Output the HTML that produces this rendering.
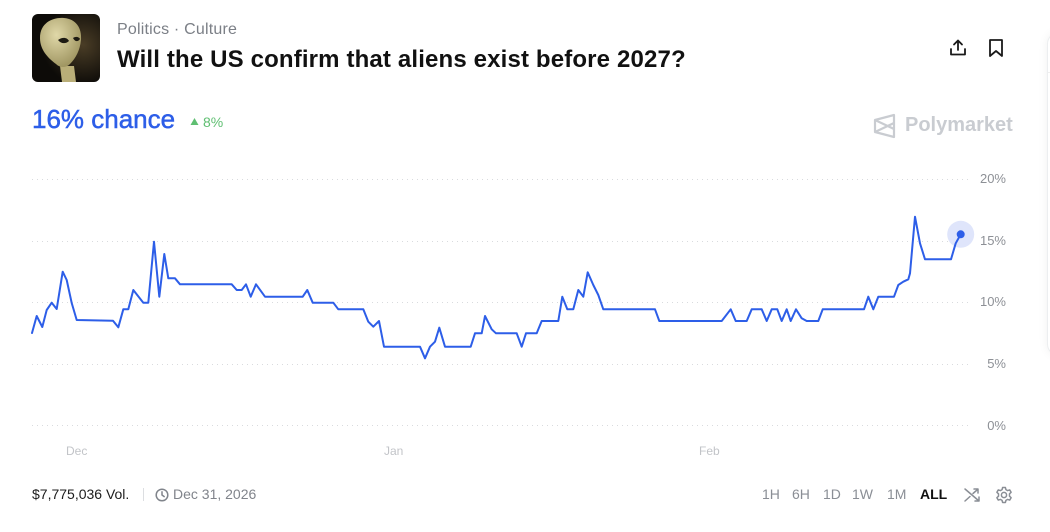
<!DOCTYPE html>
<html><head><meta charset="utf-8">
<style>
html,body{margin:0;padding:0;background:#fff;}
body{width:1050px;height:532px;overflow:hidden;position:relative;font-family:"Liberation Sans",sans-serif;}
.abs{position:absolute;white-space:nowrap;}
.cat{left:117px;top:21px;font-size:16px;color:#7b7f86;letter-spacing:0.2px;}
.title{left:117px;top:46px;font-size:24px;font-weight:bold;color:#111;letter-spacing:0.15px;}
.chance{left:32px;top:104px;font-size:26px;color:#2d5ee8;-webkit-text-stroke:0.5px #2d5ee8;}
.delta{left:190px;top:114px;font-size:14px;color:#5fbf72;}
.pm{left:905px;top:114px;font-size:20px;font-weight:bold;color:#c9ccd1;}
.ylab{font-size:13px;color:#8d9096;left:975px;width:31px;text-align:right;}
.xlab{font-size:12px;color:#c2c4c8;}
.vol{left:32px;top:486px;font-size:14px;color:#1c1c1c;}
.date{left:173px;top:486px;font-size:14px;color:#80848b;}
.rng{top:486px;font-size:14px;color:#8a8e95;}
.card{position:absolute;left:1047px;top:32px;width:30px;height:322px;border:1px solid #eceef0;border-radius:12px;box-shadow:0 0 10px rgba(0,0,0,0.06);background:#fff;}
</style></head>
<body>
<div class="card"></div>
<div style="position:absolute;left:1048px;top:72px;width:3px;height:1px;background:#eee"></div>

<!-- alien image -->
<svg class="abs" style="left:32px;top:14px" width="68" height="68" viewBox="0 0 68 68">
<defs>
<clipPath id="rc"><rect x="0" y="0" width="68" height="68" rx="6"/></clipPath>
<radialGradient id="bg" cx="0.75" cy="0.45" r="0.6"><stop offset="0" stop-color="#4a3d26"/><stop offset="1" stop-color="#0d0b08"/></radialGradient>
<radialGradient id="hd" cx="0.4" cy="0.35" r="0.7"><stop offset="0" stop-color="#e0d8a8"/><stop offset="1" stop-color="#9c925e"/></radialGradient>
</defs>
<g clip-path="url(#rc)">
<rect width="68" height="68" fill="url(#bg)"/>
<path d="M28 52 L30 68 L44 68 L42 52 Z" fill="#b9ae78"/>
<path d="M8 24 C8 8 22 3 32 4 C44 5 50 14 49 26 C48 36 44 44 38 50 C34 54 28 54 24 50 C16 44 8 36 8 24 Z" fill="url(#hd)"/>
<path d="M26 26 C30 23 35 23 37 27 C34 30 29 30 26 26 Z" fill="#1d1a12"/>
<path d="M41 24 C44 22 47 23 48 25 C46 28 43 28 41 24 Z" fill="#1d1a12"/>
</g>
</svg>

<div class="abs cat">Politics · Culture</div>
<div class="abs title">Will the US confirm that aliens exist before 2027?</div>

<!-- share / bookmark icons -->
<svg class="abs" style="left:948px;top:38px" width="20" height="20" viewBox="0 0 20 20" fill="none" stroke="#1a1a1a" stroke-width="1.8" stroke-linecap="round" stroke-linejoin="round">
<path d="M10 12 V3 M6 6.5 L10 2.5 L14 6.5"/><path d="M3 11 V16.5 H17 V11"/>
</svg>
<svg class="abs" style="left:987px;top:38px" width="18" height="20" viewBox="0 0 18 20" fill="none" stroke="#1a1a1a" stroke-width="1.8" stroke-linejoin="round">
<path d="M3 2 H15 V18 L9 13 L3 18 Z"/>
</svg>

<div class="abs chance">16% chance</div>
<svg class="abs" style="left:190px;top:117px" width="9" height="9" viewBox="0 0 9 9"><path d="M4.5 1 L8.5 8 H0.5 Z" fill="#5fbf72"/></svg>
<div class="abs delta" style="left:203px">8%</div>

<!-- polymarket logo -->
<svg class="abs" style="left:872px;top:112px" width="26" height="28" viewBox="0 0 26 28" fill="none" stroke="#c9ccd1" stroke-width="2.2" stroke-linejoin="round">
<path d="M3 8 L22 3 V25 L3 20 Z"/><path d="M3 8 L22 17 M3 20 L22 11"/>
</svg>
<div class="abs pm">Polymarket</div>

<!-- chart -->
<svg class="abs" style="left:0;top:0" width="1050" height="532">
<g stroke="#d9dbde" stroke-width="1" stroke-dasharray="1 4">
<line x1="32" y1="179.5" x2="970" y2="179.5"/>
<line x1="32" y1="241.5" x2="970" y2="241.5"/>
<line x1="32" y1="302.5" x2="970" y2="302.5"/>
<line x1="32" y1="364.5" x2="970" y2="364.5"/>
<line x1="32" y1="425.5" x2="970" y2="425.5"/>
</g>
<circle cx="960.7" cy="234.3" r="13.5" fill="#dfe5fb"/>
<polyline fill="none" stroke="#2d5ee8" stroke-width="2" stroke-linejoin="round" stroke-linecap="round" points="32,333 36.7,316 42.3,327 46.7,310 51.7,302.7 56.7,309 62.7,271.7 66.7,280 71.7,303 76.7,320 113,320.7 118.3,327.3 123.3,309.3 128.3,309.3 133.3,290 143.3,302.7 148.3,302.7 154,241.7 159.3,296.7 164.3,254 168.3,278.3 175,278.3 180,284.3 231.7,284.3 236.7,290 241.7,290 246,284.3 250.7,296.7 256,284.3 265,296.7 302.7,296.7 307.3,290 312.7,302.7 333.3,302.7 338.3,309.3 363.3,309.3 368.3,321.7 373.3,326.7 379,321 384,346.7 420,346.7 425,358.3 430,346.7 435,341.7 439.3,327.7 445,346.7 470.7,346.7 475,333.3 481.7,333.3 485,316 491.7,329.3 496,333.3 516.7,333.3 521.7,346.7 526,333.3 536.7,333.3 541.7,321 558.3,321 562.3,296.7 567.3,309.3 573.3,309.3 578.3,290 583.3,296.7 587.7,272.3 593.3,285 598.3,295 603.3,309.3 655,309.3 659.3,321 721.7,321 730.7,309.3 735.7,321 746.7,321 751.7,309.3 761.7,309.3 766.7,321 771.7,309.3 777.3,309.3 781.7,321 786.7,309.3 790.7,321 796,309.3 801.7,318.3 806.7,321 818.3,321 822.7,309.3 864,309.3 868.3,296.7 873.3,309.3 878.3,296.7 894,296.7 898.3,285 903.3,281.7 908.3,279.3 910,273.3 915,216.7 920,243.3 925,259.3 951,259.3 955.7,243.3 960.7,234.3"/>
<circle cx="960.7" cy="234.3" r="4" fill="#2d5ee8"/>
</svg>

<div class="abs ylab" style="top:171px">20%</div>
<div class="abs ylab" style="top:233px">15%</div>
<div class="abs ylab" style="top:294px">10%</div>
<div class="abs ylab" style="top:356px">5%</div>
<div class="abs ylab" style="top:418px">0%</div>

<div class="abs xlab" style="left:66px;top:444px">Dec</div>
<div class="abs xlab" style="left:384px;top:444px">Jan</div>
<div class="abs xlab" style="left:699px;top:444px">Feb</div>

<!-- bottom bar -->
<div class="abs vol">$7,775,036 Vol.</div>
<div class="abs" style="left:143px;top:488px;width:1px;height:13px;background:#dcdee1"></div>
<svg class="abs" style="left:155px;top:488px" width="14" height="14" viewBox="0 0 14 14" fill="none" stroke="#80848b" stroke-width="1.5" stroke-linecap="round">
<circle cx="7" cy="7" r="5.8"/><path d="M7 3.8 V7 L9.2 8.6"/>
</svg>
<div class="abs date">Dec 31, 2026</div>

<div class="abs rng" style="left:762px">1H</div>
<div class="abs rng" style="left:792px">6H</div>
<div class="abs rng" style="left:823px">1D</div>
<div class="abs rng" style="left:852px">1W</div>
<div class="abs rng" style="left:887px">1M</div>
<div class="abs rng" style="left:920px;color:#111;font-weight:bold">ALL</div>

<svg class="abs" style="left:963px;top:486px" width="18" height="18" viewBox="0 0 18 18" fill="none" stroke="#8a8e95" stroke-width="1.5" stroke-linecap="round" stroke-linejoin="round">
<path d="M2 3 L16 15 M12 15 H16 V11"/><path d="M2 15 L7 10.5 M10 7.5 L14 4 M11 3 H15 V7"/>
</svg>
<svg class="abs" style="left:995px;top:486px" width="18" height="18" viewBox="0 0 18 18" fill="none" stroke="#8a8e95" stroke-width="1.5" stroke-linejoin="round">
<path d="M7.6 1.5 H10.4 L10.9 3.6 L12.6 4.6 L14.7 3.9 L16.1 6.3 L14.5 7.8 V10.2 L16.1 11.7 L14.7 14.1 L12.6 13.4 L10.9 14.4 L10.4 16.5 H7.6 L7.1 14.4 L5.4 13.4 L3.3 14.1 L1.9 11.7 L3.5 10.2 V7.8 L1.9 6.3 L3.3 3.9 L5.4 4.6 L7.1 3.6 Z"/>
<circle cx="9" cy="9" r="2.6"/>
</svg>
</body></html>
